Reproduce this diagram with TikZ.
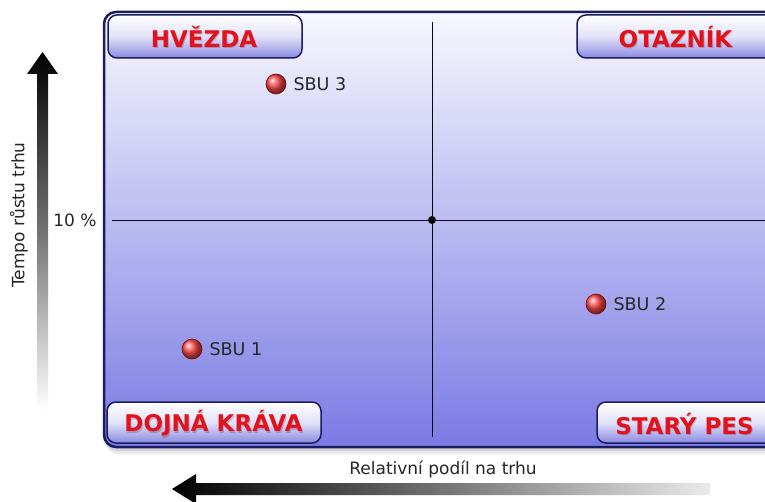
\documentclass[tikz,border=0pt]{standalone}
\usepackage{fontspec}
\setmainfont{DejaVu Sans}

\definecolor{navy}{RGB}{28,28,96}
\definecolor{paneltop}{RGB}{248,248,254}
\definecolor{panelbot}{RGB}{122,122,228}
\definecolor{boxbot}{RGB}{138,138,226}
\definecolor{labelred}{RGB}{226,18,28}

\tikzset{
  quadbox/.style={draw=navy, line width=1.5pt, rounded corners=9pt,
    top color=white, bottom color=boxbot, middle color=white!75!boxbot,
    minimum height=43pt, inner sep=0pt},
  quadtext/.style={font=\fontsize{23}{23}\selectfont\bfseries, text=labelred},
  quadshadow/.style={font=\fontsize{23}{23}\selectfont\bfseries, text=red!40!black, opacity=0.22},
  axisline/.style={draw=black!75!navy, line width=0.8pt},
  sbuball/.style={ball color=red!70!white, draw=red!50!black, line width=0.6pt},
  sbulabel/.style={font=\fontsize{17.5}{17.5}\selectfont, text=black!85, anchor=west},
  plaintext/.style={font=\fontsize{17}{17}\selectfont, text=black!85},
}

\begin{document}
\begin{tikzpicture}[x=1pt, y=-1pt]
  \useasboundingbox (0,0) rectangle (765,502);
  \clip (0,0) rectangle (765,502);
  \fill[white] (0,0) rectangle (765,502);

  % drop shadow of the panel
  \fill[black, opacity=0.08, rounded corners=12pt] (106,17) rectangle (822,454);
  \fill[black, opacity=0.10, rounded corners=12pt] (105,15) rectangle (821,451);

  % matrix panel
  \draw[navy, line width=2.5pt, rounded corners=12pt,
        top color=paneltop, bottom color=panelbot] (104,12) rectangle (820,447);

  % quadrant dividers
  \coordinate (origin) at (432,220);
  \coordinate (vtop) at (432,22);
  \coordinate (vbot) at (432,437);
  \coordinate (hleft) at (112,220);
  \coordinate (hright) at (770,220);
  \draw[axisline] (vtop) -- (vbot);
  \draw[axisline] (hleft) -- (hright);
  \fill[black] (origin) circle (4pt);

  % quadrant labels
  \node[quadbox, minimum width=194pt] (hvezdabox) at (205,36.5) {};
  \node[quadshadow] at (205,38.2) {HVĚZDA};
  \node[quadtext] (hvezda) at (204,37) {HVĚZDA};

  \node[quadbox, minimum width=220pt] (otaznikbox) at (687,36.5) {};
  \node[quadshadow] at (676.5,38.2) {OTAZNÍK};
  \node[quadtext] (otaznik) at (675.5,37) {OTAZNÍK};

  \node[quadbox, minimum width=214pt, minimum height=41pt] (dojnabox) at (214,422.5) {};
  \node[quadshadow] at (214.5,424.7) {DOJNÁ KRÁVA};
  \node[quadtext] (dojna) at (213.5,423.5) {DOJNÁ KRÁVA};

  \node[quadbox, minimum width=220pt, minimum height=41pt] (starybox) at (707,422.5) {};
  \node[quadshadow] at (685.5,424.7) {STARÝ PES};
  \node[quadtext] (stary) at (684.5,423.5) {STARÝ PES};

  % business units
  \shade[sbuball] (276,84) circle (10pt);
  \node[sbulabel] (sbu3) at (290,84) {SBU 3};
  \shade[sbuball] (596,304) circle (10pt);
  \node[sbulabel] (sbu2) at (610,304) {SBU 2};
  \shade[sbuball] (192,349) circle (10pt);
  \node[sbulabel] (sbu1) at (206,349) {SBU 1};

  % growth axis
  \shade[top color=black, bottom color=white, middle color=black!55]
    (37,410) -- (37,74) -- (27,74) -- (42.5,52) -- (58,74) -- (48,74) -- (48,410) -- cycle;
  \node[plaintext, rotate=90] (growth) at (19,215) {Tempo růstu trhu};
  \node[plaintext, anchor=east] (ten) at (100,220) {10 \%};

  % market share axis
  \shade[left color=black, right color=black!8, middle color=black!55]
    (710,483) -- (196,483) -- (196,474) -- (172,489) -- (196,504) -- (196,495) -- (710,495) -- cycle;
  \node[plaintext] (share) at (443,469) {Relativní podíl na trhu};
\end{tikzpicture}
\end{document}
